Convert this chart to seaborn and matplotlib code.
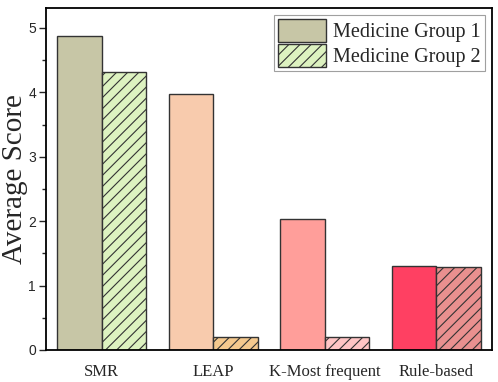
import pandas as pd
import seaborn as sns
import matplotlib.pyplot as plt
from matplotlib.patches import Patch

methods = ['SMR', 'LEAP', 'K-Most frequent', 'Rule-based']
group1 = [4.88, 3.97, 2.03, 1.30]
group2 = [4.31, 0.20, 0.20, 1.28]
groups = ['Medicine Group 1', 'Medicine Group 2']

colors1 = ['#C7C6A6', '#F8CBAD', '#FF9E9A', '#FF4062']
colors2 = ['#DDF2C0', '#F5C98E', '#FFC5C5', '#E9908F']

df = pd.DataFrame({
    'method': methods * 2,
    'score': group1 + group2,
    'group': [groups[0]] * 4 + [groups[1]] * 4,
})

sns.set_style('ticks')
plt.rcParams['hatch.linewidth'] = 0.8
plt.rcParams['hatch.color'] = '#333333'

fig = plt.figure(figsize=(4.98, 3.82), dpi=100)
ax = fig.add_axes([0.092, 0.084, 0.896, 0.895])

sns.barplot(data=df, x='method', y='score', hue='group', hue_order=groups,
            width=0.8, gap=0, edgecolor='#333333', linewidth=1.0,
            ax=ax, legend=False)

for bar, c in zip(ax.containers[0], colors1):
    bar.set_facecolor(c)
for bar, c in zip(ax.containers[1], colors2):
    bar.set_facecolor(c)
    bar.set_hatch('///')

ax.set_xlim(-0.5, 3.5)
ax.set_ylim(0, 5.31)
ax.set_xlabel('')
ax.set_ylabel('Average Score', fontsize=21, family='Liberation Serif')
ax.yaxis.set_label_coords(-0.041, 0.5)
ax.set_yticks([0, 1, 2, 3, 4, 5])
ax.set_yticks([0.5, 1.5, 2.5, 3.5, 4.5], minor=True)
ax.tick_params(axis='y', which='major', length=5, width=1, labelsize=10, pad=2, direction='out')
ax.tick_params(axis='y', which='minor', length=3, width=1, direction='out')
ax.tick_params(axis='x', length=0, pad=10)
for lab in ax.get_xticklabels():
    lab.set_family('Liberation Serif')
    lab.set_fontsize(12)
for lab in ax.get_yticklabels():
    lab.set_family('Liberation Sans')

for s in ax.spines.values():
    s.set_visible(True)
    s.set_linewidth(1.3)
    s.set_color('black')

handles = [Patch(facecolor=colors1[0], edgecolor='#333333', linewidth=1.0),
           Patch(facecolor=colors2[0], edgecolor='#333333', linewidth=1.0, hatch='///')]
leg = ax.legend(handles, groups, loc='upper right', frameon=True, fancybox=False,
                prop={'family': 'Liberation Serif', 'size': 14.5},
                borderaxespad=0.35, handlelength=2.4, handleheight=1.35,
                handletextpad=0.35, borderpad=0.2, labelspacing=0.1)
leg.get_frame().set_edgecolor('#888888')
leg.get_frame().set_linewidth(0.8)

fig.savefig('out.png', dpi=100)
